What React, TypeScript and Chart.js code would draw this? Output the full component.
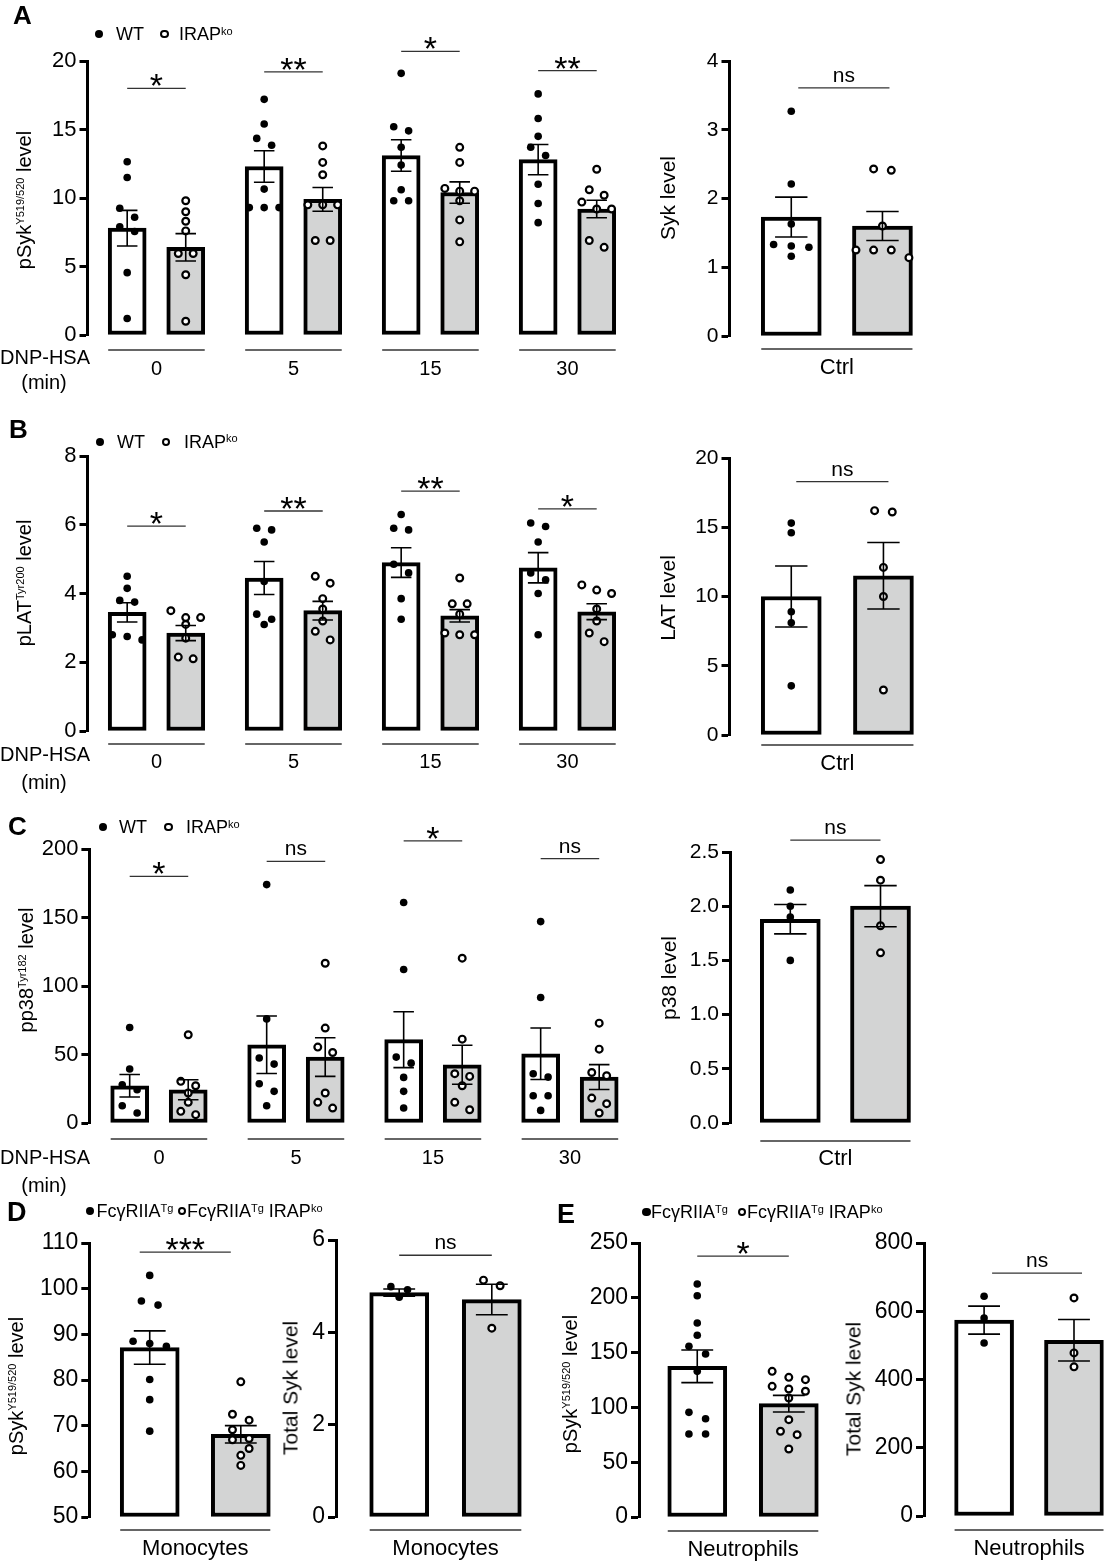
import { useEffect, useRef } from 'react';
import { Chart, registerables } from 'chart.js';

Chart.register(...registerables);

const SANS = "'Liberation Sans', Arial, Helvetica, sans-serif";
const KO_FILL = '#d3d4d4';

// ---------- data ----------
const minutes = ['0', '5', '15', '30'];
const ctrlLabel = ['Ctrl'];
const monoLabel = ['Monocytes'];
const neutroLabel = ['Neutrophils'];

// A – pSyk Y519/520 after DNP-HSA
const pSykWtMean = [7.8, 12.3, 13.1, 12.8];
const pSykWtSem = [1.3, 1.15, 1.15, 1.1];
const pSykWtPts = [
  [12.65, 11.5, 9.25, 8.6, 7.9, 7.55, 4.55, 1.2],
  [17.2, 15.4, 14.35, 13.85, 10.65, 9.3, 9.3, 9.3],
  [19.1, 15.2, 14.9, 13.7, 12.4, 10.6, 9.8, 9.8],
  [17.6, 15.8, 14.5, 13.7, 13.1, 11.0, 9.6, 8.2],
];
const pSykKoMean = [6.4, 9.9, 10.4, 9.2];
const pSykKoSem = [1.0, 0.87, 0.78, 0.64];
const pSykKoPts = [
  [9.8, 9.0, 8.3, 7.6, 5.95, 5.95, 4.4, 1.0],
  [13.8, 12.6, 11.7, 9.5, 9.5, 9.5, 6.9, 6.9],
  [13.7, 12.6, 10.7, 10.5, 10.5, 9.8, 8.4, 6.8],
  [12.1, 10.6, 10.2, 9.7, 9.2, 9.2, 6.9, 6.4],
];
const pSykSig = ['*', '**', '*', '**'];

// A – total Syk, control
const sykWtMean = [1.73];
const sykWtSem = [0.29];
const sykWtPts = [[3.27, 2.21, 1.63, 1.33, 1.31, 1.29, 1.16]];
const sykKoMean = [1.6];
const sykKoSem = [0.21];
const sykKoPts = [[2.43, 2.41, 1.6, 1.25, 1.25, 1.25, 1.14]];

// B – pLAT Tyr200
const pLatWtMean = [3.45, 4.45, 4.9, 4.75];
const pLatWtSem = [0.28, 0.48, 0.43, 0.44];
const pLatWtPts = [
  [4.5, 4.15, 3.8, 3.75, 2.8, 2.75, 2.65],
  [5.9, 5.85, 5.5, 4.35, 3.4, 3.25, 3.1],
  [6.3, 5.9, 5.85, 4.85, 4.6, 3.85, 3.25],
  [6.05, 5.95, 5.5, 4.6, 4.4, 4.0, 2.8],
];
const pLatKoMean = [2.85, 3.5, 3.35, 3.47];
const pLatKoSem = [0.22, 0.27, 0.18, 0.23];
const pLatKoPts = [
  [3.5, 3.3, 3.3, 3.1, 2.7, 2.15, 2.1],
  [4.5, 4.3, 3.85, 3.55, 3.2, 2.9, 2.65],
  [4.45, 3.7, 3.7, 3.4, 2.85, 2.8, 2.8],
  [4.25, 4.1, 4.0, 3.55, 3.2, 2.85, 2.6],
];
const pLatSig = ['*', '**', '**', '*'];

// B – total LAT, control
const latWtMean = [10.0];
const latWtSem = [2.2];
const latWtPts = [[15.3, 14.6, 8.9, 8.1, 3.55]];
const latKoMean = [11.5];
const latKoSem = [2.4];
const latKoPts = [[16.2, 16.1, 12.1, 10.0, 3.25]];

// C – pp38 Tyr182
const pp38WtMean = [27.2, 57.1, 60.8, 50.5];
const pp38WtSem = [8.2, 21, 20.4, 18.8];
const pp38WtPts = [
  [69.7, 39.4, 27.9, 24.3, 12.6, 7.3],
  [174, 76, 47.4, 43, 28.7, 23.1, 12.6],
  [161, 112, 48.1, 43.7, 33.3, 23.1, 10.9],
  [147, 91.6, 36, 33.5, 19.9, 19.9, 9.2],
];
const pp38KoMean = [24.3, 48.1, 42.5, 33.5];
const pp38KoSem = [7.3, 14.1, 14.2, 9.1];
const pp38KoPts = [
  [64.4, 30.4, 27.2, 21.9, 15.1, 8.5, 6.1],
  [116.6, 69.3, 55.4, 51.5, 21.9, 15.1, 10.9],
  [120.3, 61.2, 36, 34, 27.2, 15.1, 9.7],
  [72.9, 53.9, 36.9, 34.5, 18.2, 14.1, 7.3],
];
const pp38Sig = ['*', 'ns', '*', 'ns'];

// C – total p38, control
const p38WtMean = [1.88];
const p38WtSem = [0.135];
const p38WtPts = [[2.15, 2.0, 1.9, 1.5]];
const p38KoMean = [2.0];
const p38KoSem = [0.19];
const p38KoPts = [[2.43, 2.24, 1.82, 1.57]];

// D – monocytes
const monoPSykTgMean = [87.1];
const monoPSykTgSem = [3.65];
const monoPSykTgPts = [[102.9, 97.3, 96.4, 88.5, 88.0, 87.4, 80.1, 75.7, 68.8]];
const monoPSykKoMean = [68.1];
const monoPSykKoSem = [1.9];
const monoPSykKoPts = [[79.6, 72.5, 71.2, 69.1, 67.2, 66.9, 65.0, 63.5, 61.3]];
const monoSykTgMean = [4.86];
const monoSykTgSem = [0.08];
const monoSykTgPts = [[4.99, 4.92, 4.76]];
const monoSykKoMean = [4.71];
const monoSykKoSem = [0.33];
const monoSykKoPts = [[5.13, 5.01, 4.09]];

// E – neutrophils
const neuPSykTgMean = [137.5];
const neuPSykTgSem = [14.9];
const neuPSykTgPts = [[212.6, 201.9, 177, 165.8, 155.7, 148.7, 132.9, 95.5, 89.7, 75.7, 75.7]];
const neuPSykKoMean = [103.4];
const neuPSykKoSem = [7.6];
const neuPSykKoPts = [[132.9, 127.4, 125.3, 119.2, 116.8, 114.7, 108.6, 88.8, 78.2, 75.1, 62]];
const neuSykTgMean = [574];
const neuSykTgSem = [41];
const neuSykTgPts = [[644, 580, 507]];
const neuSykKoMean = [515];
const neuSykKoSem = [61];
const neuSykKoPts = [[639, 478, 437]];

// ---------- layout ----------
type Series = { mean: number[]; sem: number[]; pts: number[][] };
type Spec = {
  axisX: number; yTop: number; yBot: number; areaRight: number;
  x0: number; unit: number; gap: number; barW: number; step: number;
  yMin: number; yMax: number; yStep: number; decimals: number; tickSize: number;
  groups: string[]; labelSize: number; labelOff: number; bracketOff: number;
  wt: Series; ko: Series; sig: string[]; sigAt: number[]; sigShift: number;
};

const mainX = { areaRight: 630, x0: 127.5, unit: 59, gap: 2.34, barW: 38, step: 15, tickSize: 22, labelSize: 20, decimals: 0, sigShift: 0 };
const sideX = { gap: 1, barW: 60, step: 18, tickSize: 21, labelSize: 22, decimals: 0, sigShift: 0 };

const specs: Spec[] = [
  {
    ...mainX, axisX: 87.5, yTop: 61, yBot: 335, yMin: 0, yMax: 20, yStep: 5,
    groups: minutes, labelOff: 34, bracketOff: 15,
    wt: { mean: pSykWtMean, sem: pSykWtSem, pts: pSykWtPts },
    ko: { mean: pSykKoMean, sem: pSykKoSem, pts: pSykKoPts },
    sig: pSykSig, sigAt: [18.0, 19.2, 20.7, 19.3],
  },
  {
    ...sideX, axisX: 729.5, yTop: 61, yBot: 336, areaRight: 945, x0: 792.5, unit: 93,
    yMin: 0, yMax: 4, yStep: 1, groups: ctrlLabel, labelOff: 31.5, bracketOff: 13,
    wt: { mean: sykWtMean, sem: sykWtSem, pts: sykWtPts },
    ko: { mean: sykKoMean, sem: sykKoSem, pts: sykKoPts },
    sig: ['ns'], sigAt: [3.61], sigShift: 7,
  },
  {
    ...mainX, axisX: 87.5, yTop: 456, yBot: 731, yMin: 0, yMax: 8, yStep: 2,
    groups: minutes, labelOff: 31.5, bracketOff: 13,
    wt: { mean: pLatWtMean, sem: pLatWtSem, pts: pLatWtPts },
    ko: { mean: pLatKoMean, sem: pLatKoSem, pts: pLatKoPts },
    sig: pLatSig, sigAt: [5.96, 6.4, 6.98, 6.46],
  },
  {
    ...sideX, axisX: 729.5, yTop: 458, yBot: 735, areaRight: 945, x0: 792.5, unit: 94,
    yMin: 0, yMax: 20, yStep: 5, groups: ctrlLabel, labelOff: 28.5, bracketOff: 10,
    wt: { mean: latWtMean, sem: latWtSem, pts: latWtPts },
    ko: { mean: latKoMean, sem: latKoSem, pts: latKoPts },
    sig: ['ns'], sigAt: [18.3], sigShift: 5,
  },
  {
    ...mainX, axisX: 89.4, yTop: 849, yBot: 1123, x0: 130, areaRight: 632, yMin: 0, yMax: 200, yStep: 50,
    groups: minutes, labelOff: 35, bracketOff: 16,
    wt: { mean: pp38WtMean, sem: pp38WtSem, pts: pp38WtPts },
    ko: { mean: pp38KoMean, sem: pp38KoSem, pts: pp38KoPts },
    sig: pp38Sig, sigAt: [180, 191, 206, 193],
  },
  {
    ...sideX, axisX: 730, yTop: 852, yBot: 1123, areaRight: 945, x0: 791.5, unit: 92,
    yMin: 0, yMax: 2.5, yStep: 0.5, decimals: 1, groups: ctrlLabel, labelOff: 36, bracketOff: 18,
    wt: { mean: p38WtMean, sem: p38WtSem, pts: p38WtPts },
    ko: { mean: p38KoMean, sem: p38KoSem, pts: p38KoPts },
    sig: ['ns'], sigAt: [2.61],
  },
  {
    ...sideX, barW: 59, step: 17, tickSize: 23, axisX: 89.3, yTop: 1243, yBot: 1517, areaRight: 292, x0: 151, unit: 93,
    yMin: 50, yMax: 110, yStep: 10, groups: monoLabel, labelOff: 32, bracketOff: 13,
    wt: { mean: monoPSykTgMean, sem: monoPSykTgSem, pts: monoPSykTgPts },
    ko: { mean: monoPSykKoMean, sem: monoPSykKoSem, pts: monoPSykKoPts },
    sig: ['***'], sigAt: [108], sigShift: -10,
  },
  {
    ...sideX, barW: 59, step: 17, tickSize: 23, axisX: 336, yTop: 1240, yBot: 1517, areaRight: 545, x0: 400.5, unit: 94.5,
    yMin: 0, yMax: 6, yStep: 2, groups: monoLabel, labelOff: 32, bracketOff: 13,
    wt: { mean: monoSykTgMean, sem: monoSykTgSem, pts: monoSykTgPts },
    ko: { mean: monoSykKoMean, sem: monoSykKoSem, pts: monoSykKoPts },
    sig: ['ns'], sigAt: [5.67],
  },
  {
    ...sideX, barW: 59, step: 17, tickSize: 23, axisX: 639, yTop: 1243, yBot: 1517, areaRight: 840, x0: 698.5, unit: 93.5,
    yMin: 0, yMax: 250, yStep: 50, groups: neutroLabel, labelOff: 33, bracketOff: 14,
    wt: { mean: neuPSykTgMean, sem: neuPSykTgSem, pts: neuPSykTgPts },
    ko: { mean: neuPSykKoMean, sem: neuPSykKoSem, pts: neuPSykKoPts },
    sig: ['*'], sigAt: [238],
  },
  {
    ...sideX, barW: 59, step: 17, tickSize: 23, axisX: 924, yTop: 1243, yBot: 1516, areaRight: 1108, x0: 985.5, unit: 92,
    yMin: 0, yMax: 800, yStep: 200, groups: neutroLabel, labelOff: 33, bracketOff: 14,
    wt: { mean: neuSykTgMean, sem: neuSykTgSem, pts: neuSykTgPts },
    ko: { mean: neuSykKoMean, sem: neuSykKoSem, pts: neuSykKoPts },
    sig: ['ns'], sigAt: [712], sigShift: 8,
  },
];

// horizontal scatter like Prism: points within ~9px vertically share a row
function spread(vals: number[], pxPerVal: number, step: number): number[] {
  const order = vals.map((_, i) => i).sort((a, b) => vals[b] - vals[a]);
  const out = vals.map(() => 0);
  let row: number[] = [];
  const flush = () => {
    row.forEach((id, j) => { out[id] = (j - (row.length - 1) / 2) * step; });
    row = [];
  };
  for (const id of order) {
    if (row.length && (vals[row[0]] - vals[id]) * pxPerVal > 9) flush();
    row.push(id);
  }
  flush();
  return out;
}

const DotBarChart = ({ s }: { s: Spec }) => {
  const chartRef = useRef<HTMLCanvasElement | null>(null);
  const left = Math.floor(s.axisX - 72);
  const top = Math.floor(s.yTop - 52);
  const width = Math.ceil(s.areaRight + 2 - left);
  const height = Math.ceil(s.yBot + 64 - top);

  useEffect(() => {
    if (!chartRef.current) return;
    const ctx = chartRef.current.getContext('2d');
    if (!ctx) return;

    const yAxisW = s.axisX - left;
    const padTop = s.yTop - top;
    const padRight = left + width - s.areaRight;
    const xAxisH = top + height - s.yBot;
    const pxPerVal = (s.yBot - s.yTop) / (s.yMax - s.yMin);
    const barX = (g: number, k: number) => g * s.gap + k;
    const series = [s.wt, s.ko];

    const bars = series.map((ser, k) => ({
      type: 'bar' as const,
      data: ser.mean.map((m, g) => ({ x: barX(g, k), y: m })),
      backgroundColor: k ? KO_FILL : '#fff',
      borderColor: '#000',
      borderWidth: 4,
      borderSkipped: false,
      barThickness: s.barW,
      grouped: false,
      base: s.yMin,
      order: 3,
    }));
    const dots = series.map((ser, k) => ({
      type: 'scatter' as const,
      data: ser.pts.flatMap((vals, g) => {
        const off = spread(vals, pxPerVal, s.step);
        return vals.map((v, i) => ({ x: barX(g, k) + off[i] / s.unit, y: v }));
      }),
      pointRadius: k ? 3.4 : 3.8,
      pointBackgroundColor: k ? '#fff' : '#000',
      pointBorderColor: '#000',
      pointBorderWidth: k ? 2.2 : 0,
      clip: false as const,
      order: 1,
    }));

    const overlay = {
      id: 'overlay',
      afterDatasetsDraw(chart: any) {
        const c = chart.ctx;
        const x = chart.scales.x;
        const y = chart.scales.y;
        const cap = s.barW * 0.27;
        c.save();
        // SEM error bars
        c.strokeStyle = '#000';
        c.lineWidth = 1.6;
        series.forEach((ser, k) => ser.mean.forEach((m, g) => {
          const cx = x.getPixelForValue(barX(g, k));
          const hi = y.getPixelForValue(m + ser.sem[g]);
          const lo = y.getPixelForValue(m - ser.sem[g]);
          c.beginPath();
          c.moveTo(cx, hi); c.lineTo(cx, lo);
          c.moveTo(cx - cap, hi); c.lineTo(cx + cap, hi);
          c.moveTo(cx - cap, lo); c.lineTo(cx + cap, lo);
          c.stroke();
        }));
        // significance marks and group brackets
        c.strokeStyle = '#333';
        c.lineWidth = 1.3;
        c.fillStyle = '#000';
        c.textAlign = 'center';
        const bottom = chart.chartArea.bottom;
        s.groups.forEach((_, g) => {
          const a = x.getPixelForValue(barX(g, 0));
          const b = x.getPixelForValue(barX(g, 1));
          const sa = a + s.sigShift;
          const sb = b + s.sigShift;
          const ly = y.getPixelForValue(s.sigAt[g]);
          c.beginPath(); c.moveTo(sa, ly); c.lineTo(sb, ly); c.stroke();
          const mark = s.sig[g];
          if (mark === 'ns') {
            c.font = `21px ${SANS}`;
            c.fillText(mark, (sa + sb) / 2, ly - 6);
          } else {
            c.font = `34px ${SANS}`;
            c.fillText(mark, (sa + sb) / 2, ly + 9);
          }
          const by = bottom + s.bracketOff;
          c.beginPath();
          c.moveTo(a - s.barW / 2, by); c.lineTo(b + s.barW / 2, by);
          c.stroke();
        });
        c.restore();
      },
    };

    const centers = s.groups.map((_, g) => barX(g, 0.5));
    const chartInstance = new Chart(ctx, {
      type: 'bar',
      data: { datasets: [...dots, ...bars] as any },
      options: {
        animation: false,
        responsive: false,
        events: [],
        layout: { padding: { left: 0, top: padTop, right: padRight, bottom: 0 } },
        plugins: { legend: { display: false }, tooltip: { enabled: false } },
        scales: {
          x: {
            type: 'linear',
            min: (s.axisX - s.x0) / s.unit,
            max: (s.areaRight - s.x0) / s.unit,
            offset: false,
            grid: { display: false, drawTicks: false },
            border: { display: false },
            afterBuildTicks: (scale: any) => { scale.ticks = centers.map((v) => ({ value: v })); },
            afterFit: (scale: any) => { scale.height = xAxisH; },
            ticks: {
              autoSkip: false,
              maxRotation: 0,
              minRotation: 0,
              color: '#000',
              padding: s.labelOff - s.labelSize * 0.6,
              font: { family: SANS, size: s.labelSize },
              callback: (_v: any, i: number) => s.groups[i],
            },
          },
          y: {
            type: 'linear',
            min: s.yMin,
            max: s.yMax,
            beginAtZero: false,
            afterFit: (scale: any) => { scale.width = yAxisW; },
            grid: { drawOnChartArea: false, drawTicks: true, tickLength: 8, tickWidth: 3, tickColor: '#000' },
            border: { display: true, color: '#000', width: 3 },
            ticks: {
              stepSize: s.yStep,
              color: '#000',
              padding: 3,
              font: { family: SANS, size: s.tickSize },
              callback: (v: any) => Number(v).toFixed(s.decimals),
            },
          },
        },
      },
      plugins: [overlay],
    } as any);

    return () => {
      chartInstance.destroy();
    };
  }, [s, left, top, width, height]);

  return (
    <canvas
      ref={chartRef}
      width={width}
      height={height}
      style={{ position: 'absolute', left, top, width, height }}
    ></canvas>
  );
};

// ---------- text overlays ----------
const Txt = ({ x, y, size, bold, center, children }: any) => (
  <div
    style={{
      position: 'absolute', left: x, top: y,
      transform: center ? 'translate(-50%, -50%)' : 'translateY(-50%)',
      fontSize: size, fontWeight: bold ? 700 : 400, lineHeight: 1, whiteSpace: 'nowrap',
    }}
  >
    {children}
  </div>
);

const Title = ({ x, y, size, children }: any) => (
  <div
    style={{
      position: 'absolute', left: x, top: y,
      transform: 'translate(-50%, -50%) rotate(-90deg)',
      fontSize: size, lineHeight: 1, whiteSpace: 'nowrap',
    }}
  >
    {children}
  </div>
);

const Sup = ({ children, size = 11, raise = '-0.6em' }: any) => (
  <span style={{ fontSize: size, position: 'relative', top: raise }}>{children}</span>
);

const Dot = ({ x, y, open }: any) => (
  <div
    style={{
      position: 'absolute', left: x - 4.2, top: y - 4.2, width: 8.4, height: 8.4,
      borderRadius: '50%', boxSizing: 'border-box',
      background: open ? '#fff' : '#000', border: open ? '2px solid #000' : 'none',
    }}
  />
);

const WtLegend = ({ dx, ox, y, tx, kx }: any) => (
  <>
    <Dot x={dx} y={y} />
    <Txt x={tx} y={y} size={18}>WT</Txt>
    <Dot x={ox} y={y} open />
    <Txt x={kx} y={y} size={18}>IRAP<Sup raise="-0.5em">ko</Sup></Txt>
  </>
);

const TgLegend = ({ dx, ox, y, tx, kx }: any) => (
  <>
    <Dot x={dx} y={y} />
    <Txt x={tx} y={y} size={18}>FcγRIIA<Sup raise="-0.5em">Tg</Sup></Txt>
    <Dot x={ox} y={y} open />
    <Txt x={kx} y={y} size={18}>FcγRIIA<Sup raise="-0.5em">Tg</Sup> IRAP<Sup raise="-0.5em">ko</Sup></Txt>
  </>
);

const DnpLabel = ({ y1, y2 }: any) => (
  <>
    <Txt x={0} y={y1} size={20}>DNP-HSA</Txt>
    <Txt x={44} y={y2} size={20} center>(min)</Txt>
  </>
);

const App = () => (
  <div
    style={{
      position: 'absolute', left: 0, top: 0, width: 1109, height: 1565, overflow: 'hidden',
      background: '#fff', color: '#000', fontFamily: SANS,
    }}
  >
    {specs.map((s, i) => <DotBarChart key={i} s={s} />)}

    <Txt x={13} y={15} size={26} bold>A</Txt>
    <Txt x={9} y={429} size={26} bold>B</Txt>
    <Txt x={8} y={826} size={26} bold>C</Txt>
    <Txt x={7} y={1212} size={27} bold>D</Txt>
    <Txt x={557} y={1214} size={27} bold>E</Txt>

    <WtLegend dx={99} ox={164.5} y={34} tx={116} kx={179} />
    <WtLegend dx={99.7} ox={166} y={441.7} tx={117} kx={184} />
    <WtLegend dx={103} ox={168.5} y={827} tx={119} kx={186} />
    <TgLegend dx={89.7} ox={182} y={1211} tx={96.5} kx={187} />
    <TgLegend dx={646.5} ox={742} y={1212} tx={651} kx={747} />

    <DnpLabel y1={357} y2={382} />
    <DnpLabel y1={754} y2={782} />
    <DnpLabel y1={1157} y2={1185} />

    <Title x={24} y={200} size={20}>pSyk<Sup>Y519/520</Sup> level</Title>
    <Title x={24} y={583} size={20}>pLAT<Sup>Tyr200</Sup> level</Title>
    <Title x={26} y={970} size={20}>pp38<Sup>Tyr182</Sup> level</Title>
    <Title x={667} y={198} size={21}>Syk level</Title>
    <Title x={667} y={598} size={21}>LAT level</Title>
    <Title x={668} y={978} size={21}>p38 level</Title>
    <Title x={16} y={1386} size={20}>pSyk<Sup>Y519/520</Sup> level</Title>
    <Title x={290} y={1388} size={21}>Total Syk level</Title>
    <Title x={570} y={1384} size={20}>pSyk<Sup>Y519/520</Sup> level</Title>
    <Title x={853} y={1389} size={21}>Total Syk level</Title>
  </div>
);

export default App;
